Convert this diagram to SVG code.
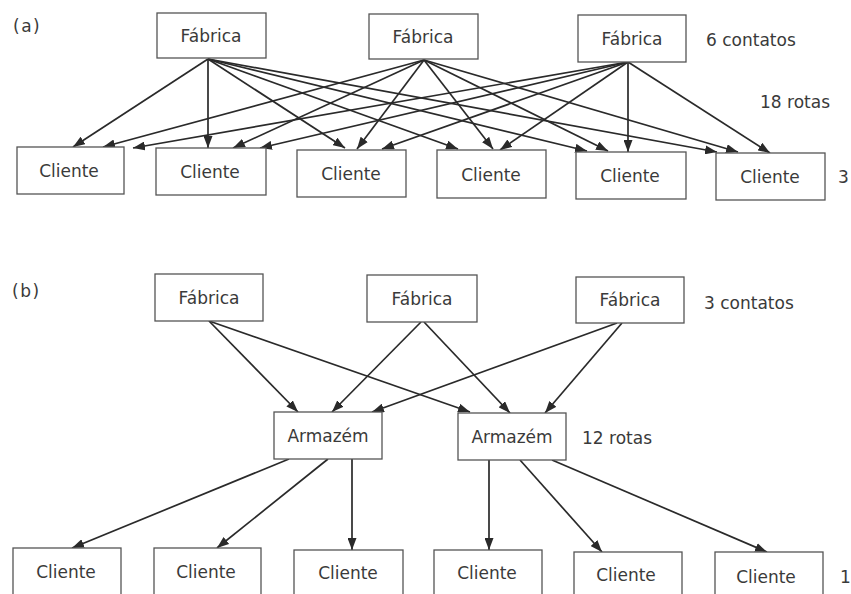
<svg xmlns="http://www.w3.org/2000/svg" width="851" height="594" viewBox="0 0 851 594">
<defs>
<marker id="ah" markerUnits="userSpaceOnUse" markerWidth="12" markerHeight="9" refX="12" refY="4.5" orient="auto">
<path d="M0,0 L12,4.5 L0,9 z" fill="#2a2a2a"/>
</marker>
<style>
.box{fill:#fff;stroke:#555;stroke-width:1.3}
.t{font-family:"DejaVu Sans","Liberation Sans",sans-serif;font-size:17px;fill:#3a3a3a;text-anchor:middle}
.l{font-family:"DejaVu Sans","Liberation Sans",sans-serif;font-size:17px;fill:#3a3a3a}
.c line{stroke:#2a2a2a;stroke-width:1.7;marker-end:url(#ah)}
</style>
</defs>
<rect width="851" height="594" fill="#fff"/>
<text class="l" x="13" y="32" font-size="19" letter-spacing="1.5">(a)</text>
<text class="l" x="12" y="297" font-size="19" letter-spacing="1.5">(b)</text>
<g id="connectors-a" class="c">
<line x1="208" y1="59" x2="73" y2="147"/>
<line x1="208" y1="59" x2="208" y2="148"/>
<line x1="208" y1="59" x2="345" y2="148"/>
<line x1="208" y1="59" x2="458" y2="149"/>
<line x1="208" y1="59" x2="587" y2="151"/>
<line x1="208" y1="59" x2="717" y2="152"/>
<line x1="424" y1="60" x2="103" y2="147"/>
<line x1="424" y1="60" x2="233" y2="148"/>
<line x1="424" y1="60" x2="357" y2="149"/>
<line x1="424" y1="60" x2="493" y2="149"/>
<line x1="424" y1="60" x2="608" y2="151"/>
<line x1="424" y1="60" x2="738" y2="152"/>
<line x1="628" y1="62" x2="133" y2="148"/>
<line x1="628" y1="62" x2="260" y2="148"/>
<line x1="628" y1="62" x2="382" y2="149"/>
<line x1="628" y1="62" x2="500" y2="150"/>
<line x1="628" y1="62" x2="628" y2="152"/>
<line x1="628" y1="62" x2="770" y2="153"/>
</g>
<g id="connectors-b" class="c">
<line x1="209" y1="321" x2="298" y2="412"/>
<line x1="209" y1="321" x2="470" y2="412"/>
<line x1="421" y1="322" x2="332" y2="412"/>
<line x1="424" y1="322" x2="510" y2="413"/>
<line x1="617" y1="323" x2="372" y2="412"/>
<line x1="622" y1="323" x2="545" y2="413"/>
<line x1="289" y1="459" x2="72" y2="548"/>
<line x1="328" y1="459" x2="217" y2="548"/>
<line x1="352" y1="459" x2="352" y2="550"/>
<line x1="489" y1="460" x2="489" y2="550"/>
<line x1="520" y1="460" x2="602" y2="552"/>
<line x1="552" y1="460" x2="767" y2="552"/>
</g>
<g id="a-fabrica1"><rect class="box" x="157" y="13" width="109" height="45"/><text class="t" x="211" y="42">Fábrica</text></g>
<g id="a-fabrica2"><rect class="box" x="369" y="14" width="109" height="45"/><text class="t" x="423" y="43">Fábrica</text></g>
<g id="a-fabrica3"><rect class="box" x="578" y="15" width="108" height="47"/><text class="t" x="632" y="45">Fábrica</text></g>
<g id="a-cliente1"><rect class="box" x="17" y="147" width="107" height="47"/><text class="t" x="69" y="177">Cliente</text></g>
<g id="a-cliente2"><rect class="box" x="156" y="148" width="110" height="47"/><text class="t" x="210" y="178">Cliente</text></g>
<g id="a-cliente3"><rect class="box" x="297" y="150" width="109" height="47"/><text class="t" x="351" y="180">Cliente</text></g>
<g id="a-cliente4"><rect class="box" x="437" y="150" width="109" height="48"/><text class="t" x="491" y="181">Cliente</text></g>
<g id="a-cliente5"><rect class="box" x="576" y="152" width="110" height="47"/><text class="t" x="630" y="182">Cliente</text></g>
<g id="a-cliente6"><rect class="box" x="716" y="153" width="109" height="47"/><text class="t" x="770" y="183">Cliente</text></g>
<text class="l" x="706" y="46">6 contatos</text>
<text class="l" x="760" y="108">18 rotas</text>
<text class="l" x="838" y="183">3</text>
<g id="b-fabrica1"><rect class="box" x="155" y="274" width="108" height="47"/><text class="t" x="209" y="304">Fábrica</text></g>
<g id="b-fabrica2"><rect class="box" x="367" y="275" width="110" height="47"/><text class="t" x="422" y="305">Fábrica</text></g>
<g id="b-fabrica3"><rect class="box" x="576" y="277" width="108" height="46"/><text class="t" x="630" y="306">Fábrica</text></g>
<g id="b-armazem1"><rect class="box" x="274" y="412" width="108" height="47"/><text class="t" x="328" y="442">Armazém</text></g>
<g id="b-armazem2"><rect class="box" x="458" y="413" width="108" height="47"/><text class="t" x="512" y="443">Armazém</text></g>
<g id="b-cliente1"><rect class="box" x="13" y="548" width="108" height="50"/><text class="t" x="66" y="578">Cliente</text></g>
<g id="b-cliente2"><rect class="box" x="154" y="548" width="107" height="50"/><text class="t" x="206" y="578">Cliente</text></g>
<g id="b-cliente3"><rect class="box" x="294" y="550" width="109" height="50"/><text class="t" x="348" y="579">Cliente</text></g>
<g id="b-cliente4"><rect class="box" x="434" y="550" width="108" height="50"/><text class="t" x="487" y="579">Cliente</text></g>
<g id="b-cliente5"><rect class="box" x="574" y="552" width="108" height="50"/><text class="t" x="626" y="581">Cliente</text></g>
<g id="b-cliente6"><rect class="box" x="715" y="552" width="108" height="50"/><text class="t" x="766" y="583">Cliente</text></g>
<text class="l" x="704" y="309">3 contatos</text>
<text class="l" x="582" y="444">12 rotas</text>
<text class="l" x="840" y="583">1</text>
</svg>
